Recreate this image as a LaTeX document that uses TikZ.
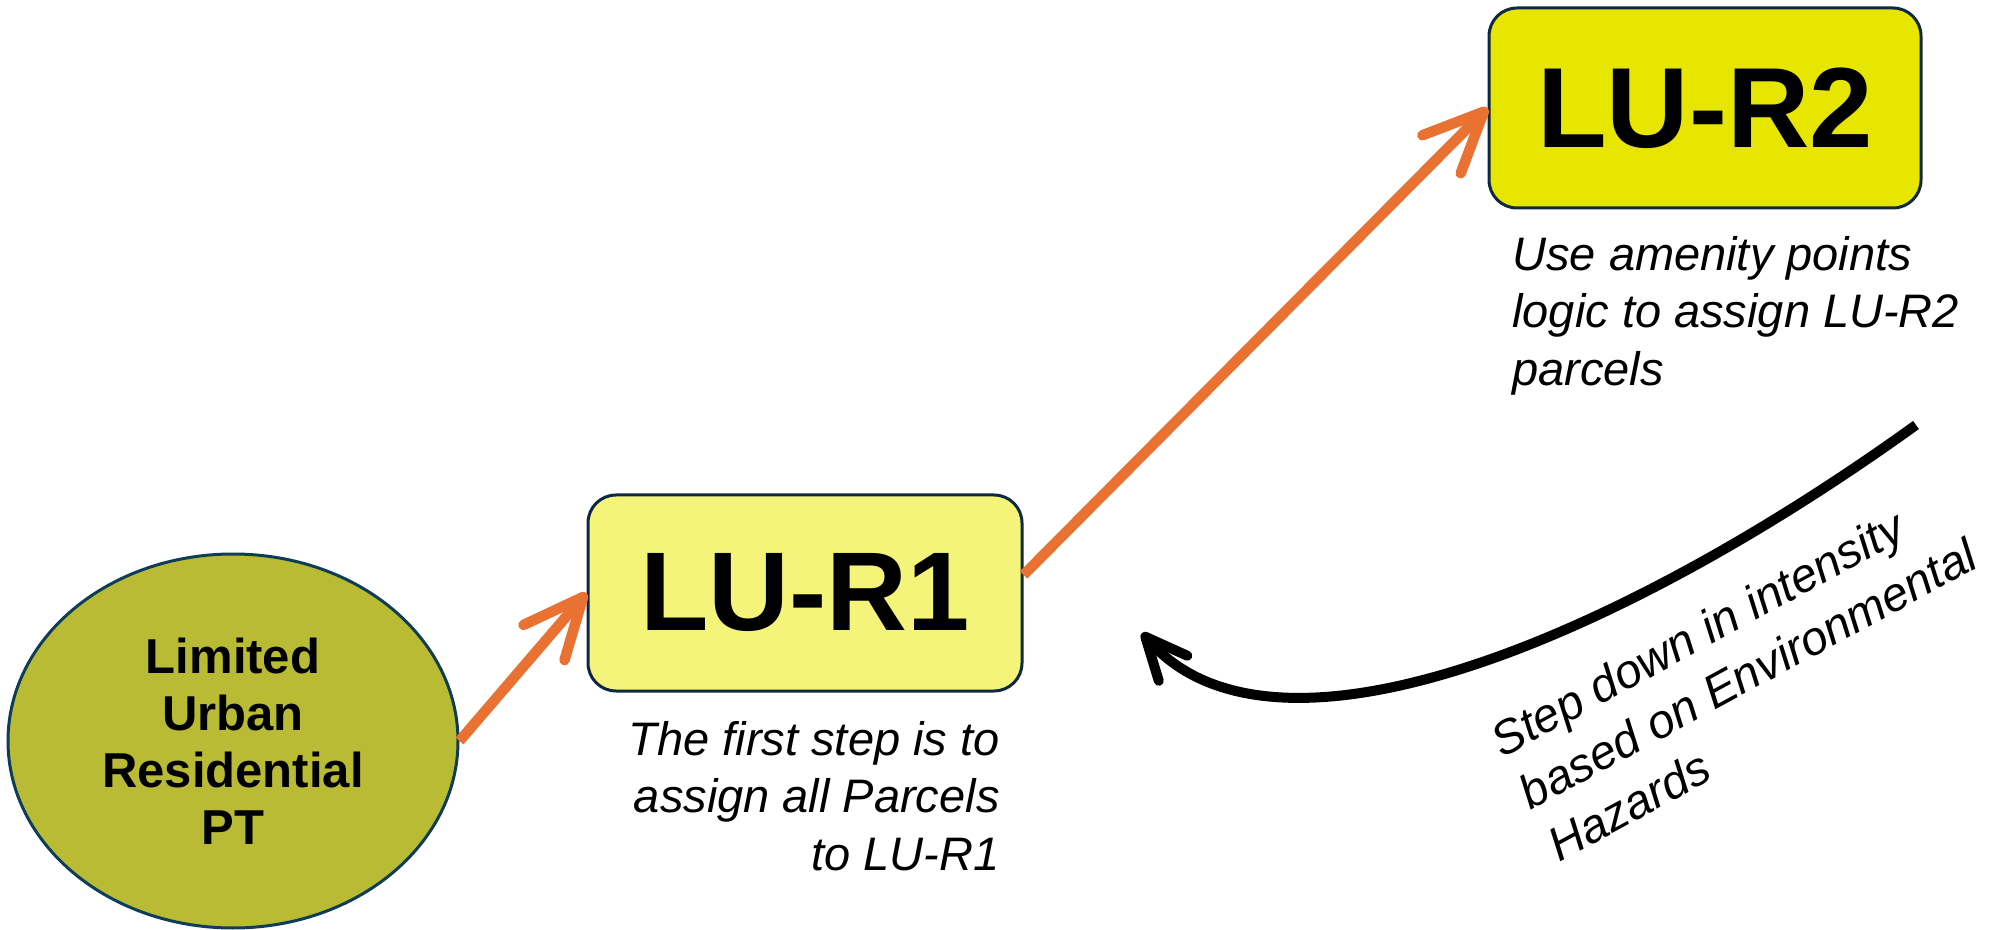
\documentclass[tikz,border=0pt]{standalone}
\usepackage{fontspec}
\setmainfont{Liberation Sans}
\usetikzlibrary{arrows.meta,shapes.geometric}
\definecolor{orangeA}{HTML}{E97132}
\definecolor{navyB}{HTML}{0E2841}
\definecolor{tealB}{HTML}{0F3D58}
\definecolor{oliveA}{HTML}{B8BB33}
\definecolor{yellowA}{HTML}{F4F47A}
\definecolor{yellowB}{HTML}{E6E600}
\begin{document}
\begin{tikzpicture}[x=0.5pt,y=-0.5pt,
  boxline/.style={draw=navyB, line width=1.5pt, rounded corners=14pt, inner sep=0pt},
  capt/.style={font=\itshape\fontsize{23.5}{28.75}\selectfont, inner sep=0pt},
  orangearrow/.style={draw=orangeA, line width=5.25pt, -{Straight Barb[length=30pt,width=27pt,round]}},
  blackarrow/.style={draw=black, line width=5pt, -{Straight Barb[length=21pt,width=19pt,round]}}]
\useasboundingbox (0,0) rectangle (1992,930);
\node[ellipse, draw=tealB, fill=oliveA, line width=1.5pt, minimum width=225pt, minimum height=187pt, inner sep=0pt, align=center, font=\bfseries\fontsize{24.5}{28.5}\selectfont] (pt) at (233,741) {Limited\\Urban\\Residential\\PT};
\node[boxline, fill=yellowA, minimum width=217pt, minimum height=98pt, font=\bfseries\fontsize{56}{60}\selectfont] (r1) at (805,593) {LU-R1};
\node[boxline, fill=yellowB, minimum width=216pt, minimum height=100pt, font=\bfseries\fontsize{57}{60}\selectfont] (r2) at (1705,108) {LU-R2};
\node[capt, align=right, anchor=north east] (c1) at (1000,721) {The first step is to\\assign all Parcels\\to LU-R1};
\node[capt, align=left, anchor=north west] (c2) at (1512,236) {Use amenity points\\logic to assign LU-R2\\parcels};
\node[capt, font=\itshape\fontsize{23.75}{29.75}\selectfont, align=left, anchor=north west, rotate=28.5] (c3) at (1485.5,727.7) {Step down in intensity\\based on Environmental\\Hazards};
\draw[orangearrow] (pt.east) -- (r1.west);
\draw[orangearrow] ([yshift=9pt]r1.east) -- (r2.west);
\coordinate (bs) at (1916,425);
\coordinate (be) at (1142,633);
\draw[blackarrow] (bs) .. controls (1616,641) and (1274,783) .. (be);
\end{tikzpicture}
\end{document}
